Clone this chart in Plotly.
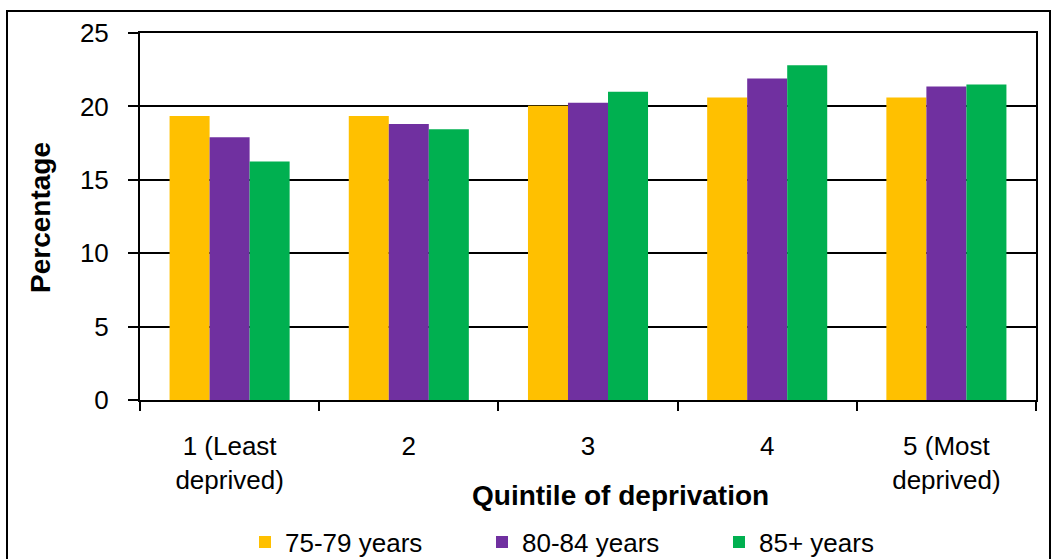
import plotly.graph_objects as go

categories = ["1 (Least<br>deprived)", "2", "3", "4", "5 (Most<br>deprived)"]
series_names = ["75-79 years", "80-84 years", "85+ years"]
vals_75_79 = [19.35, 19.35, 20.05, 20.6, 20.6]
vals_80_84 = [17.9, 18.8, 20.25, 21.9, 21.35]
vals_85_plus = [16.25, 18.45, 21.0, 22.8, 21.5]
colors = ["#FFC000", "#7030A0", "#00B050"]
y_ticks = [0, 5, 10, 15, 20, 25]

FONT = "Liberation Sans, Arial, sans-serif"

fig = go.Figure()
for name, vals, col in zip(series_names, [vals_75_79, vals_80_84, vals_85_plus], colors):
    fig.add_trace(go.Bar(name=name, x=categories, y=vals, marker_color=col,
                         marker_line_width=0))

W, H = 1055, 559
L, R, T, B = 140, 19, 33, 159
pw, ph = W - L - R, H - T - B

def px_x(p):
    return (p - L) / pw

def px_y(p):
    return (H - B - p) / ph

fig.update_layout(
    width=W, height=H,
    margin=dict(l=L, r=R, t=T, b=B, autoexpand=False),
    paper_bgcolor="white", plot_bgcolor="white",
    font=dict(family=FONT, size=27, color="black"),
    barmode="group", bargap=0.33, bargroupgap=0,
    showlegend=True,
    legend=dict(orientation="h", x=px_x(245), xanchor="left",
                y=px_y(542), yanchor="middle",
                entrywidth=192, entrywidthmode="pixels",
                font=dict(size=26, family=FONT), itemwidth=30,
                traceorder="normal"),
    xaxis=dict(showline=True, linecolor="black", linewidth=2, mirror=True,
               ticks="outside", ticklen=9, tickwidth=2, tickcolor="black",
               tickson="boundaries", showgrid=False, ticklabelstandoff=22,
               automargin=False,
               tickfont=dict(size=26, family=FONT)),
    yaxis=dict(range=[0, 25], tickvals=y_ticks, showline=True, linecolor="black",
               linewidth=2, mirror=True, ticks="outside", ticklen=10, tickwidth=2,
               tickcolor="black", showgrid=True, gridcolor="black", gridwidth=2,
               zeroline=False, ticklabelstandoff=14, automargin=False,
               tickfont=dict(size=26, family=FONT)),
    annotations=[
        dict(text="<b>Percentage</b>", textangle=-90, xref="paper", yref="paper",
             x=px_x(40), y=px_y(218), xanchor="center", yanchor="middle",
             showarrow=False, font=dict(size=28, family=FONT)),
        dict(text="<b>Quintile of deprivation</b>", xref="paper", yref="paper",
             x=px_x(620), y=px_y(496), xanchor="center", yanchor="middle",
             showarrow=False, font=dict(size=28, family=FONT)),
    ],
    shapes=[dict(type="rect", xref="paper", yref="paper",
                 x0=px_x(7), x1=px_x(1050), y0=px_y(600), y1=px_y(11),
                 line=dict(color="black", width=2), fillcolor="rgba(0,0,0,0)")],
)

fig.write_html("out.html", config={"displayModeBar": False},
               post_script="document.body.style.margin='0';document.body.style.overflow='hidden';")
